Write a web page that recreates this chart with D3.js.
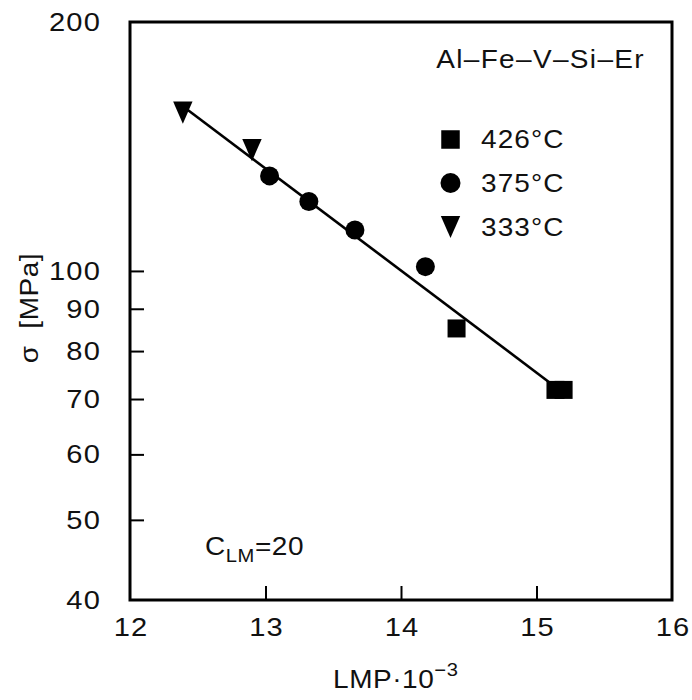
<!DOCTYPE html>
<html>
<head>
<meta charset="utf-8">
<script src="https://cdn.jsdelivr.net/npm/d3@7"></script>
<style>
  html, body { margin: 0; padding: 0; background: #fff; }
  svg text { font-family: "Liberation Sans", Arial, sans-serif; fill: #111; }
</style>
</head>
<body>
<svg id="chart" width="692" height="700"></svg>
<script>
// Larson-Miller plot of stress vs. LMP for Al-Fe-V-Si-Er

// Measured points, one group per test temperature
const lmp426 = [14.41, 15.14, 15.20];
const sigma426 = [85.2, 71.8, 71.8];

const lmp375 = [13.03, 13.32, 13.66, 14.18];
const sigma375 = [130.3, 121.3, 112.1, 101.2];

const lmp333 = [12.39, 12.90];
const sigma333 = [155.4, 140.0];

// Fitted master line (end points)
const fitLMP = [12.39, 15.14];
const fitSigma = [158.2, 72.4];

// Axis ticks
const xTicks = [12, 13, 14, 15, 16];
const yTicks = [40, 50, 60, 70, 80, 90, 100, 200];
const xTickMarks = [13, 14, 15];
const yTickMarks = [50, 60, 70, 80, 90, 100];

const legendLabels = ["426°C", "375°C", "333°C"];
const legendKinds = ["square", "circle", "triangle"];

const svg = d3.select("#chart");
const plotL = 130, plotR = 672, plotT = 22, plotB = 600;
const SX = 1.12; // horizontal widening of the lettering

const x = d3.scaleLinear().domain([12, 16]).range([plotL, plotR]);
const y = d3.scaleLog().domain([40, 200]).range([plotB, plotT]);

// Text helper: places a horizontally widened label
function label(px, py, anchor, size, spacing, rotate) {
  const g = svg.append("g")
    .attr("transform", `translate(${px},${py})${rotate ? " rotate(" + rotate + ")" : ""} scale(${SX},1)`);
  return g.append("text")
    .attr("text-anchor", anchor)
    .attr("font-size", size)
    .style("letter-spacing", spacing + "px");
}

// Marker drawing helper
function drawMarker(g, kind, cx, cy, size) {
  if (kind === "square") {
    g.append("rect")
      .attr("x", cx - size / 2).attr("y", cy - size / 2)
      .attr("width", size).attr("height", size)
      .attr("fill", "#000");
  } else if (kind === "circle") {
    g.append("circle")
      .attr("cx", cx).attr("cy", cy).attr("r", size / 2)
      .attr("fill", "#000");
  } else {
    const w = size * 1.05, h = size * 1.2;
    g.append("path")
      .attr("d", `M${cx - w / 2},${cy - h / 2}L${cx + w / 2},${cy - h / 2}L${cx},${cy + h / 2}Z`)
      .attr("fill", "#000");
  }
}

// Tick marks pointing inward
const xAxis = d3.axisBottom(x).tickValues(xTickMarks).tickSize(-14).tickFormat("");
svg.append("g").attr("transform", `translate(0,${plotB})`).call(xAxis)
  .call(g => g.select(".domain").remove())
  .call(g => g.selectAll("line").attr("stroke", "#000").attr("stroke-width", 2));

const yAxis = d3.axisLeft(y).tickValues(yTickMarks).tickSize(-14).tickFormat("");
svg.append("g").attr("transform", `translate(${plotL},0)`).call(yAxis)
  .call(g => g.select(".domain").remove())
  .call(g => g.selectAll("line").attr("stroke", "#000").attr("stroke-width", 2));

// Tick labels
xTicks.forEach(d => label(x(d) + 1, 636, "middle", 26, 1).text(d));
yTicks.forEach(d => label(101, y(d) + 9, "end", 26, 1).text(d));

// Frame
svg.append("rect")
  .attr("x", plotL).attr("y", plotT)
  .attr("width", plotR - plotL).attr("height", plotB - plotT)
  .attr("fill", "none").attr("stroke", "#000").attr("stroke-width", 3);

// Fit line
const line = d3.line().x(d => x(d[0])).y(d => y(d[1]));
svg.append("path")
  .datum(fitLMP.map((v, i) => [v, fitSigma[i]]))
  .attr("d", line)
  .attr("fill", "none").attr("stroke", "#000").attr("stroke-width", 2.6);

// Data markers
const marks = svg.append("g");
lmp426.forEach((v, i) => drawMarker(marks, "square", x(v), y(sigma426[i]), 18));
lmp375.forEach((v, i) => drawMarker(marks, "circle", x(v), y(sigma375[i]), 19));
lmp333.forEach((v, i) => drawMarker(marks, "triangle", x(v), y(sigma333[i]), 18.5));

// Alloy name
label(645, 68, "end", 25, 1.2).text("Al–Fe–V–Si–Er");

// Legend
const legendRows = [139.5, 183, 227];
const lg = svg.append("g");
legendKinds.forEach((k, i) => {
  drawMarker(lg, k, 450.5, legendRows[i], k === "circle" ? 20 : 18.5);
  label(481, legendRows[i] + 8.5, "start", 25, 1).text(legendLabels[i]);
});

// Constant annotation
const c = label(205, 555, "start", 25, 0.5);
c.append("tspan").text("C");
c.append("tspan").attr("font-size", 18).attr("dy", 7).text("LM");
c.append("tspan").attr("dy", -7).text("=20");

// Axis titles
const xt = label(333, 688, "start", 25, 0.5);
xt.append("tspan").text("LMP·10");
xt.append("tspan").attr("font-size", 18).attr("dy", -12).text("−3");

label(38, 308, "middle", 25, 0.5, -90)
  .style("white-space", "pre")
  .text("σ  [MPa]");
</script>
</body>
</html>
